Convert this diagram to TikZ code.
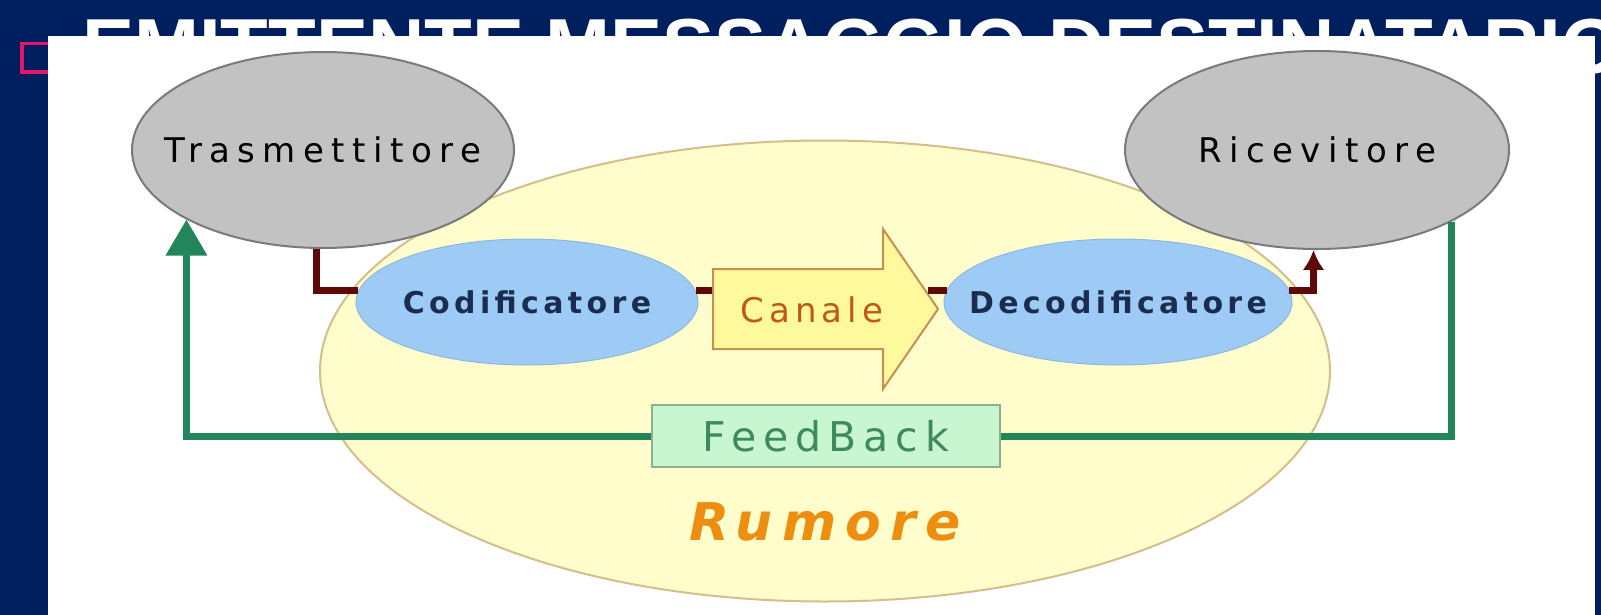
\documentclass[tikz,border=0pt]{standalone}
\usepackage{fontspec}
\usepackage{tikz}
\usetikzlibrary{arrows.meta,shapes,positioning}

\newfontfamily\titlefont{Liberation Sans}
\newfontfamily\grayfont[LetterSpace=22]{DejaVu Sans}
\newfontfamily\coderfont[LetterSpace=14.5]{DejaVu Sans}
\newfontfamily\chanfont[LetterSpace=15]{DejaVu Sans}
\newfontfamily\fbfont[LetterSpace=17]{DejaVu Sans}
\newfontfamily\noisefont[LetterSpace=18]{DejaVu Sans}

\definecolor{slidenavy}{HTML}{001F5F}
\definecolor{slidepink}{HTML}{E3166E}
\definecolor{endfill}{HTML}{C2C2C2}
\definecolor{enddraw}{HTML}{7A7A7A}
\definecolor{coderfill}{HTML}{9DCBF5}
\definecolor{coderdraw}{HTML}{8CB9E2}
\definecolor{codertext}{HTML}{1B2D4F}
\definecolor{noisefill}{HTML}{FFFDCC}
\definecolor{noisedraw}{HTML}{D6BE8C}
\definecolor{noisetext}{HTML}{EE8E10}
\definecolor{chanfill}{HTML}{FFF99E}
\definecolor{chandraw}{HTML}{C89050}
\definecolor{chantext}{HTML}{BF5A14}
\definecolor{fbfill}{HTML}{C8F6D0}
\definecolor{fbdraw}{HTML}{8FAF8F}
\definecolor{fbtext}{HTML}{3E8A5C}
\definecolor{fbgreen}{HTML}{23855A}
\definecolor{msgred}{HTML}{5E0808}

\tikzset{
    endpoint/.style={
        ellipse,
        draw=enddraw,
        fill=endfill,
        line width=2pt,
        inner sep=0pt,
        inner xsep=-60pt,
        minimum width=382pt,
        minimum height=196pt,
        font=\grayfont\fontsize{34}{40}\selectfont,
    },
    coder/.style={
        ellipse,
        draw=coderdraw,
        fill=coderfill,
        line width=1pt,
        inner sep=0pt,
        inner xsep=-60pt,
        minimum width=342pt,
        minimum height=126pt,
        text=codertext,
        font=\coderfont\bfseries\fontsize{30}{36}\selectfont,
    },
    noise/.style={
        ellipse,
        draw=noisedraw,
        fill=noisefill,
        line width=2pt,
        inner sep=0pt,
        minimum width=1010pt,
        minimum height=461pt,
    },
    channel/.style={
        single arrow,
        draw=chandraw,
        fill=chanfill,
        line width=2pt,
        minimum height=225pt,
        single arrow head extend=40pt,
        single arrow tip angle=111,
        text height=26pt,
        text depth=0pt,
        inner ysep=26pt,
        text=chantext,
        font=\chanfont\fontsize{34}{40}\selectfont,
    },
    feedbox/.style={
        rectangle,
        draw=fbdraw,
        fill=fbfill,
        line width=2pt,
        minimum width=348pt,
        minimum height=62pt,
        text=fbtext,
        font=\fbfont\fontsize{41}{48}\selectfont,
    },
    msgline/.style={
        draw=msgred,
        line width=7pt,
    },
    fbline/.style={
        draw=fbgreen,
        line width=7pt,
    },
}

\begin{document}
\begin{tikzpicture}[
    x=1pt,
    y=-1pt,
    node distance=994pt,
    on grid]

\useasboundingbox (0,0) rectangle (1601,615);
\fill [slidenavy] (0,0) rectangle (1601,615);

% titolo della slide
\node
[
    anchor=base west,
    inner sep=0pt,
    text=white,
    font=\titlefont\bfseries\fontsize{78}{80}\selectfont
] (title) at (82,74)
{EMITTENTE MESSAGGIO DESTINATARIO};
\draw [slidepink, line width=3.5pt] (21.75,43.75) rectangle (52,72.25);
\fill [white] (48,36) rectangle (1595,615);

% Rumore
\node [noise] (rum) at (825,371) {};
\node
[
    below=151pt of rum,
    text=noisetext,
    font=\noisefont\bfseries\itshape\fontsize{52}{60}\selectfont
] (rumlab) {Rumore};

% Trasmettitore e Ricevitore
\node [endpoint] (tras) at (323,150) {Trasmettitore};
\node
[
    endpoint,
    minimum width=384pt,
    minimum height=198pt
] (ric) [right=of tras] {Ricevitore};

% Codificatore e Decodificatore
\node [coder] (cod) at (527,302) {Codificatore};
\node [coder, minimum width=348pt] (dec) at (1118,302) {Decodificatore};

% Canale
\node [channel, anchor=tail] (canale) at (712,309) {Canale};

% FeedBack
\node [feedbox] (fb) at (826,436) {FeedBack};

% Messaggio
\draw [msgline] (tras.-94) |- (cod.176);
\draw [msgline] (cod.4) -- (cod.4 -| canale.tail);
\draw [msgline, shorten >=-11pt] (dec.176) -- (dec.176 -| canale.tip);
\draw [msgline, -{Latex[length=20pt,width=22pt]}] (dec.4) -| (ric.-92);

% Ritorno
\draw [fbline] (fb.east) -| (ric.-28);
\draw [fbline, -{Triangle[length=36pt,width=40pt]}] (fb.west) -| (tras.-153);

\end{tikzpicture}
\end{document}
